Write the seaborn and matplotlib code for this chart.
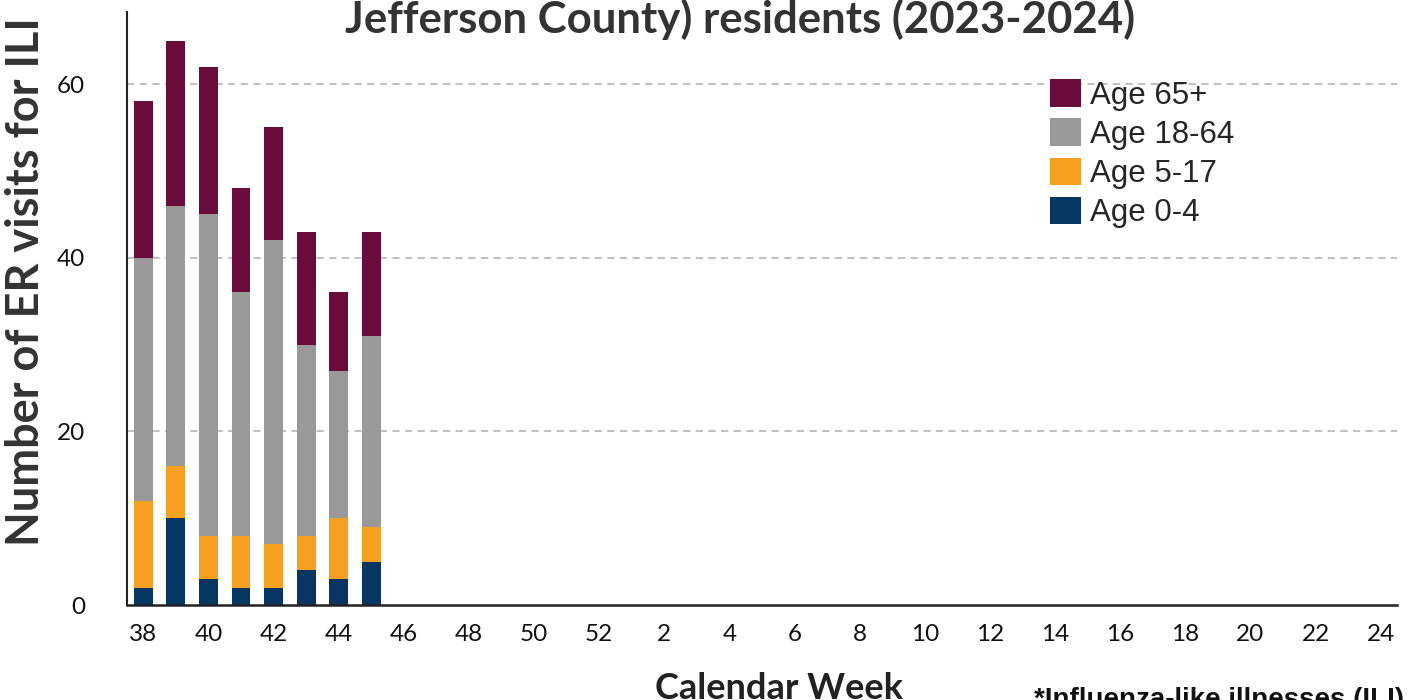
import numpy as np
import pandas as pd
import matplotlib
matplotlib.use("Agg")
import matplotlib.pyplot as plt
from matplotlib.patches import Patch
import seaborn as sns

# ==========================================
# DATA
# ==========================================
all_weeks = [str(w) for w in list(range(38, 53)) + list(range(1, 25))]
weeks = ["38", "39", "40", "41", "42", "43", "44", "45"]
age_0_4 = [2, 10, 3, 2, 2, 4, 3, 5]
age_5_17 = [10, 6, 5, 6, 5, 4, 7, 4]
age_18_64 = [28, 30, 37, 28, 35, 22, 17, 22]
age_65_plus = [18, 19, 17, 12, 13, 13, 9, 12]

groups = ["Age 65+", "Age 18-64", "Age 5-17", "Age 0-4"]
colors = {"Age 65+": "#6a0d3a", "Age 18-64": "#999999",
          "Age 5-17": "#f79f1f", "Age 0-4": "#063661"}

# cumulative heights, top group first so smaller ones paint over it
cum_0_4 = np.array(age_0_4)
cum_5_17 = cum_0_4 + np.array(age_5_17)
cum_18_64 = cum_5_17 + np.array(age_18_64)
cum_65 = cum_18_64 + np.array(age_65_plus)
layers = [("Age 65+", cum_65), ("Age 18-64", cum_18_64),
          ("Age 5-17", cum_5_17), ("Age 0-4", cum_0_4)]

# ==========================================
# PLOT
# ==========================================
sns.set_style("white")
plt.rcParams["font.family"] = ["Lato", "DejaVu Sans"]

fig = plt.figure(figsize=(14.09, 7.0), dpi=100)
ax = fig.add_axes([127 / 1409, 95 / 700, 1270 / 1409, 593 / 700])

for name, heights in layers:
    df = pd.DataFrame({"week": weeks, "count": heights})
    sns.barplot(data=df, x="week", y="count", order=all_weeks, color=colors[name],
                saturation=1, width=0.58, errorbar=None, linewidth=0, ax=ax)

ax.set_ylim(0, 68.3)
ax.set_xlim(-0.5, len(all_weeks) - 0.5)
ax.set_yticks([0, 20, 40, 60])
ax.set_xticks(range(0, len(all_weeks), 2))
ax.set_xticklabels(all_weeks[::2])
ax.tick_params(axis="both", length=0, labelsize=17.5, colors="#111111")
ax.tick_params(axis="x", pad=14)
ax.tick_params(axis="y", pad=30)

for y in [20, 40, 60]:
    ax.axhline(y, color="#bbbbbb", linestyle=(0, (4, 3)), linewidth=1.3, zorder=0)

for side in ["top", "right"]:
    ax.spines[side].set_visible(False)
ax.spines["left"].set_color("#222222")
ax.spines["bottom"].set_color("#222222")
ax.spines["left"].set_linewidth(1.5)
ax.spines["bottom"].set_linewidth(1.8)

ax.set_xlabel("Calendar Week", fontsize=26, fontweight="bold", color="#222222")
ax.xaxis.set_label_coords(0.513, -0.113)
ax.set_ylabel("Number of ER visits for ILI", fontsize=32.5, fontweight="bold", color="#333333")
ax.yaxis.set_label_coords(-0.063, 0.546)

fig.text(0.525, 1 - 33 / 700, "Jefferson County) residents (2023-2024)", ha="center",
         va="baseline", fontsize=31.5, fontweight="bold", color="#333333")

handles = [Patch(facecolor=colors[g], edgecolor="none") for g in groups]
leg = ax.legend(handles, groups, loc="upper left", bbox_to_anchor=(0.705, 0.934),
                frameon=False, prop={"family": "Liberation Sans", "size": 22.5},
                handlelength=0.97, handleheight=0.97, handletextpad=0.3, labelspacing=0.25)

fig.text(0.734, 0.0, "*Influenza-like illnesses (ILI)", ha="left", va="center",
         fontsize=20, fontweight="bold", family="Liberation Sans", color="#111111")

fig.savefig("out.png", dpi=100)
